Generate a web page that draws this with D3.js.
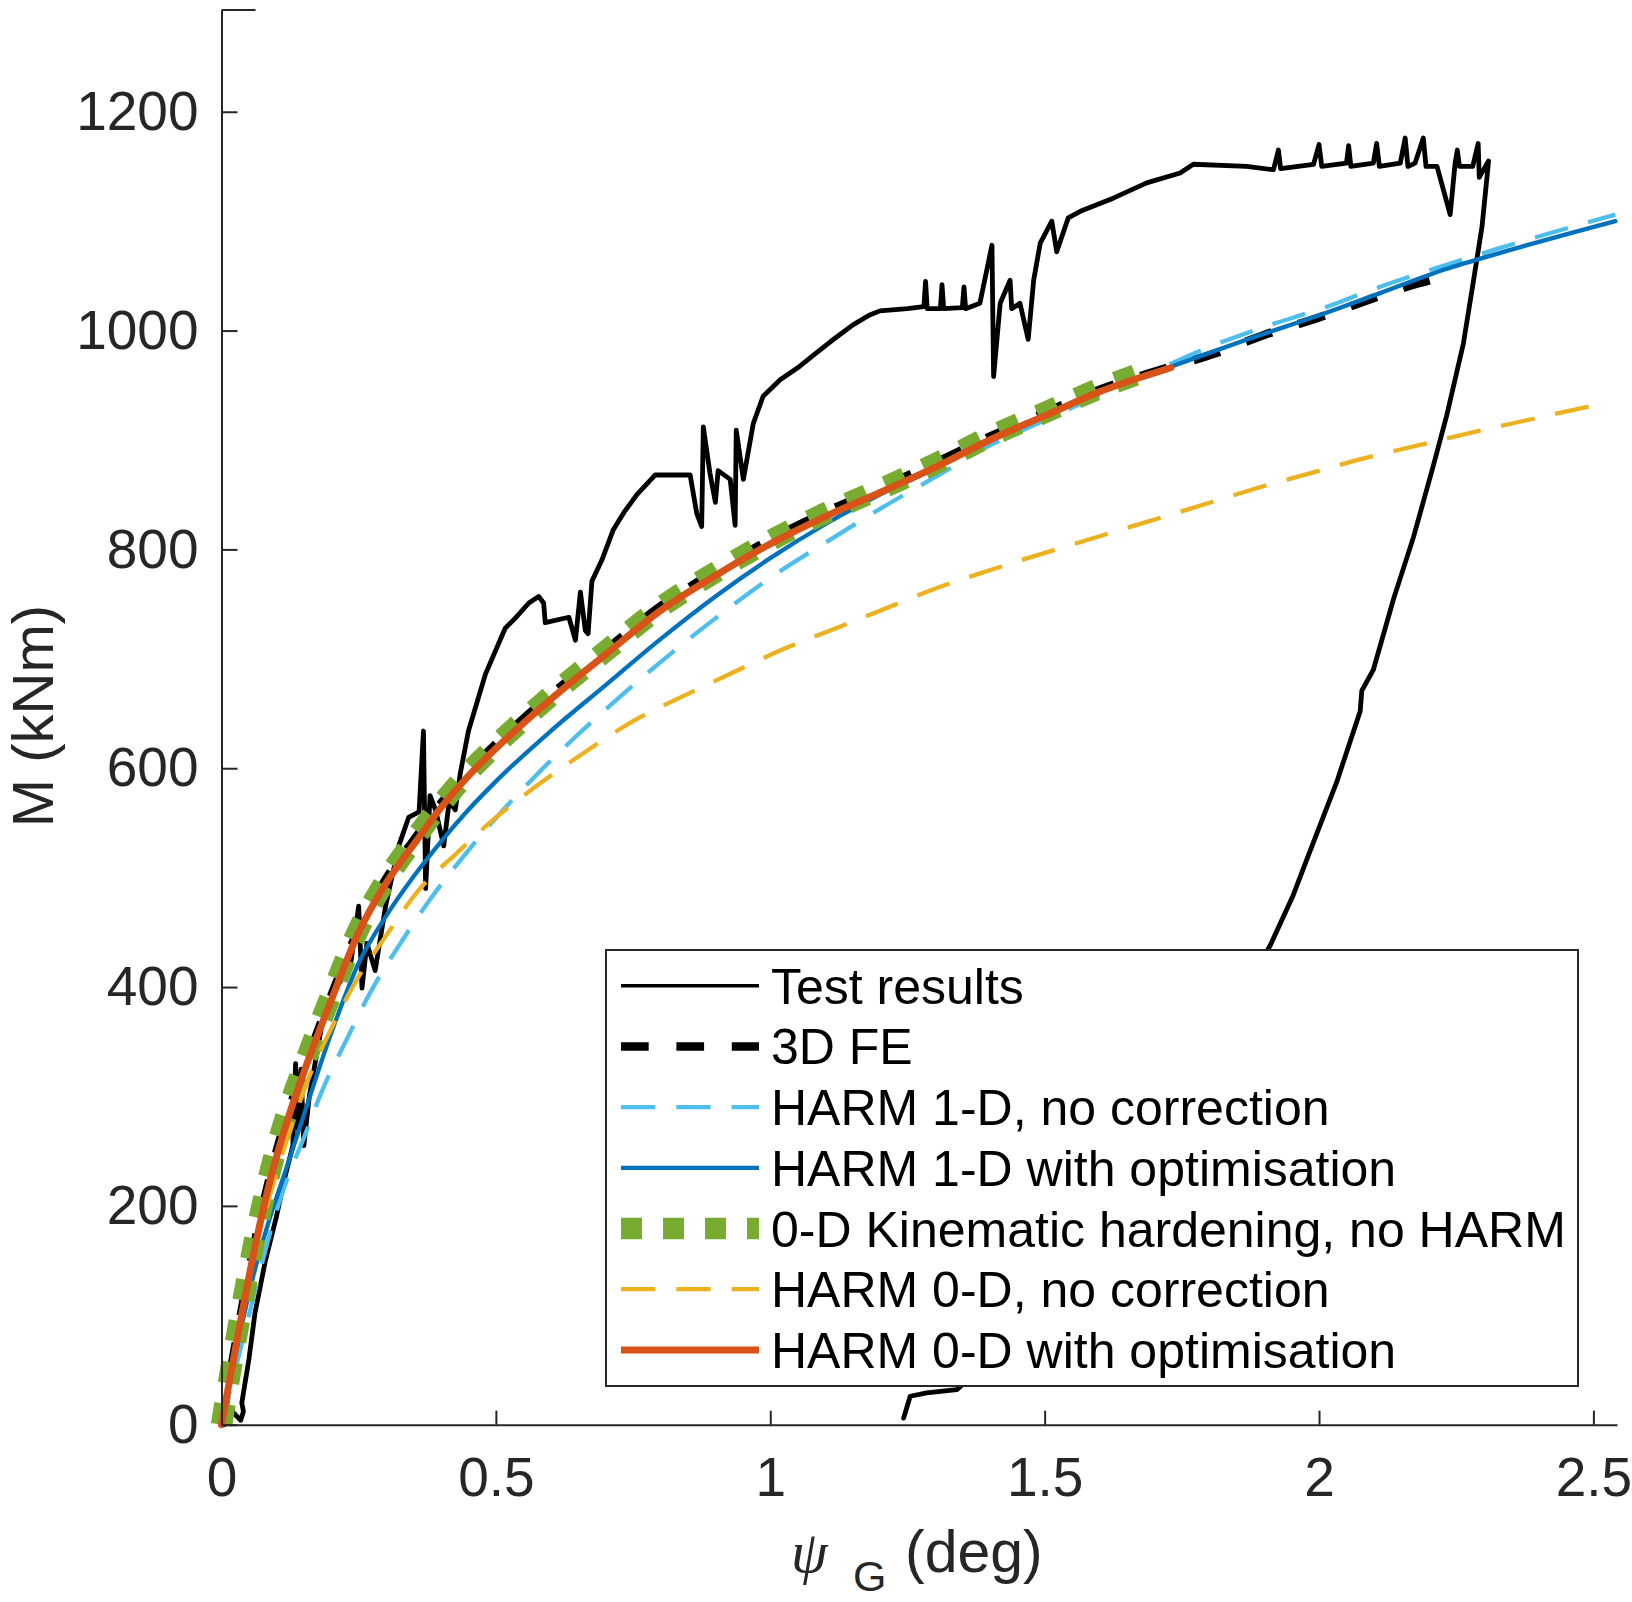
<!DOCTYPE html>
<html>
<head>
<meta charset="utf-8">
<script src="https://cdn.jsdelivr.net/npm/d3@7"></script>
<style>
  body { margin: 0; background: #fff; }
  svg { display: block; }
</style>
</head>
<body>
<div id="chart"></div>
<script>
// tick labels
const psiTicks = [0, 0.5, 1, 1.5, 2, 2.5];
const mTicks = [0, 200, 400, 600, 800, 1000, 1200];

// [psi (deg), M (kNm)]
const testResults = [
  [0.005,0],[0.02,12],[0.035,4],[0.04,12],[0.037,20],[0.05,60],[0.061,102],[0.08,150],[0.1,190],
  [0.115,225],[0.13,255],[0.135,330],[0.14,270],[0.145,325],[0.15,255],[0.16,300],[0.183,366],
  [0.21,400],[0.235,420],[0.25,474],[0.256,399],[0.265,440],[0.28,415],[0.299,474],[0.323,529],
  [0.341,555],[0.36,560],[0.368,634],[0.372,490],[0.38,575],[0.39,562],[0.405,529],[0.415,570],
  [0.426,562],[0.435,595],[0.45,634],[0.481,686],[0.517,728],[0.535,737],[0.56,751],[0.578,757],
  [0.587,751],[0.59,733],[0.633,738],[0.645,717],[0.654,761],[0.663,726],[0.668,723],[0.675,771],
  [0.693,790],[0.714,818],[0.735,835],[0.757,850],[0.79,868],[0.854,868],[0.866,833],[0.875,821],[0.878,912],
  [0.89,870],[0.9,843],[0.905,872],[0.927,864],[0.936,822],[0.938,909],[0.951,864],[0.969,915],
  [0.987,940],[1.018,955],[1.05,966],[1.08,978],[1.11,990],[1.15,1005],[1.18,1014],[1.2,1018],[1.25,1020],[1.28,1022],
  [1.283,1045],[1.286,1020],[1.31,1020],[1.313,1042],[1.316,1020],[1.35,1021],[1.353,1040],
  [1.356,1020],[1.382,1025],[1.404,1078],[1.407,958],[1.419,1025],[1.437,1046],[1.44,1020],
  [1.455,1025],[1.47,992],[1.48,1046],[1.492,1080],[1.513,1100],[1.522,1072],[1.543,1103],
  [1.565,1109],[1.625,1121],[1.686,1135],[1.747,1144],[1.771,1152],[1.868,1150],[1.917,1147],
  [1.926,1165],[1.93,1148],[1.99,1152],[2.0,1170],[2.005,1150],[2.05,1153],[2.054,1169],
  [2.058,1150],[2.099,1153],[2.105,1171],[2.11,1150],[2.148,1153],[2.157,1176],[2.162,1150],
  [2.175,1153],[2.19,1176],[2.195,1150],[2.215,1150],[2.239,1106],[2.248,1153],[2.252,1165],
  [2.256,1150],[2.28,1150],[2.29,1171],[2.292,1140],[2.309,1155],
  // unloading
  [2.297,1095],[2.281,1044],[2.263,988],[2.233,923],[2.208,876],[2.172,811],[2.136,755],
  [2.099,690],[2.078,671],[2.075,652],[2.032,587],[1.978,517],[1.953,484],[1.911,438],
  [1.8,340],[1.65,220],[1.5,120],[1.4,60],[1.34,32],[1.285,29],[1.255,26],[1.243,6]
];

const fe3d = [
  [0,0],[0.03,86],[0.06,165],[0.09,230],[0.12,283],[0.15,325],[0.2,392],[0.25,453],[0.3,499],
  [0.35,534],[0.4,568],[0.45,597],[0.5,622],[0.6,667],[0.7,708],[0.8,748],[0.9,780],[1.0,809],
  [1.1,834],[1.2,856],[1.3,879],[1.4,903],[1.5,925],[1.6,946],[1.71,964],[1.81,979],[1.9,996],
  [2.0,1012],[2.09,1028],[2.18,1043],[2.21,1047]
];

const harm1dNoCorr = [
  [0,0],[0.03,60],[0.06,120],[0.09,178],[0.12,225],[0.15,262],[0.184,306],[0.226,350],
  [0.27,394],[0.33,443],[0.38,480],[0.45,525],[0.51,560],[0.58,597],[0.65,631],[0.73,667],
  [0.8,697],[0.9,737],[1.0,774],[1.1,806],[1.2,837],[1.3,866],[1.4,895],[1.5,918],[1.6,941],
  [1.7,963],[1.8,985],[1.91,1005],[2.01,1021],[2.1,1038],[2.2,1055],[2.32,1074],[2.54,1106]
];

const harm1dOpt = [
  [0,0],[0.03,75],[0.06,140],[0.09,192],[0.12,237],[0.15,283],[0.2,358],[0.25,422],[0.3,465],
  [0.35,501],[0.4,533],[0.45,562],[0.5,588],[0.6,634],[0.7,676],[0.8,718],[0.9,757],[1.0,792],
  [1.1,823],[1.2,850],[1.3,874],[1.4,900],[1.5,922],[1.6,944],[1.73,967],[1.87,992],[2.0,1014],
  [2.11,1034],[2.23,1056],[2.33,1071],[2.54,1100]
];

const kinematic0d = [
  [0,0],[0.03,88],[0.06,168],[0.09,234],[0.12,286],[0.15,328],[0.2,393],[0.25,453],[0.3,498],
  [0.35,534],[0.4,567],[0.45,596],[0.5,621],[0.6,666],[0.7,707],[0.8,747],[0.9,779],[1.0,808],
  [1.1,833],[1.2,855],[1.3,878],[1.4,903],[1.5,925],[1.6,947],[1.68,962]
];

const harm0dNoCorr = [
  [0,0],[0.03,80],[0.06,155],[0.09,213],[0.12,262],[0.16,318],[0.2,362],[0.24,401],[0.3,447],
  [0.36,489],[0.43,523],[0.5,555],[0.58,586],[0.66,614],[0.75,643],[0.85,668],[0.93,687],
  [1.02,708],[1.12,728],[1.21,746],[1.3,764],[1.4,781],[1.6,812],[1.79,841],[1.88,855],
  [1.98,869],[2.08,883],[2.18,895],[2.28,907],[2.36,916],[2.505,932]
];

const harm0dOpt = [
  [0,0],[0.03,82],[0.06,160],[0.09,226],[0.12,278],[0.15,322],[0.2,388],[0.25,450],[0.3,495],
  [0.35,530],[0.4,564],[0.45,593],[0.5,618],[0.6,663],[0.7,704],[0.8,744],[0.9,776],[1.0,805],
  [1.1,830],[1.2,852],[1.3,875],[1.4,900],[1.5,922],[1.6,944],[1.73,966]
];

const seriesNames = [
  'Test results', '3D FE', 'HARM 1-D, no correction', 'HARM 1-D with optimisation',
  '0-D Kinematic hardening, no HARM', 'HARM 0-D, no correction', 'HARM 0-D with optimisation'
];

const W = 1632, H = 1602;
const x = d3.scaleLinear().domain([0, 2.543]).range([221.5, 1617]);
const y = d3.scaleLinear().domain([0, 1293]).range([1424.7, 10]);
const axisColor = '#262626';
const font = '"Liberation Sans", Arial, Helvetica, sans-serif';

const series = [
  { data: testResults, color: '#000000', width: 4.8, legendWidth: 3.5, dash: null, smooth: false },
  { data: fe3d, color: '#000000', width: 8.5, dash: '27.7,27.7', smooth: true },
  { data: harm1dNoCorr, color: '#4DBEEE', width: 4.3, dash: '34.3,21', smooth: true },
  { data: harm1dOpt, color: '#0072BD', width: 4.3, dash: null, smooth: true },
  { data: kinematic0d, color: '#77AC30', width: 21.5, dash: '21,21', smooth: true },
  { data: harm0dNoCorr, color: '#EDB120', width: 4.3, dash: '34.3,21', smooth: true },
  { data: harm0dOpt, color: '#D95319', width: 7, dash: null, smooth: true }
];

const svg = d3.select('#chart').append('svg')
  .attr('width', W).attr('height', H)
  .attr('viewBox', `0 0 ${W} ${H}`);

const plot = svg.append('g');
series.forEach(s => {
  const line = d3.line()
    .x(d => x(d[0]))
    .y(d => y(d[1]))
    .curve(s.smooth ? d3.curveMonotoneX : d3.curveLinear);
  plot.append('path')
    .datum(s.data)
    .attr('fill', 'none')
    .attr('stroke', s.color)
    .attr('stroke-width', s.width)
    .attr('stroke-linejoin', 'round')
    .attr('stroke-linecap', s.dash ? 'butt' : 'round')
    .attr('stroke-dasharray', s.dash)
    .attr('d', line);
});

// axes, ticks pointing inward like matlab
const yAxis = svg.append('g')
  .attr('transform', `translate(${x(0)},0)`)
  .call(d3.axisLeft(y).tickValues(mTicks).tickFormat(d3.format('d'))
    .tickSizeInner(-16).tickSizeOuter(0).tickPadding(23));
const xAxis = svg.append('g')
  .attr('transform', `translate(0,${y(0)})`)
  .call(d3.axisBottom(x).tickValues(psiTicks).tickFormat(d => String(d))
    .tickSizeInner(-14).tickSizeOuter(0).tickPadding(32));

[yAxis, xAxis].forEach(g => {
  g.select('.domain').attr('stroke', axisColor).attr('stroke-width', 2);
  g.selectAll('.tick line').attr('stroke', axisColor).attr('stroke-width', 2);
  g.selectAll('.tick text')
    .attr('fill', axisColor)
    .style('font-family', font)
    .style('font-size', '55px');
});

// short stub at the top of the y axis
svg.append('line')
  .attr('x1', x(0)).attr('x2', x(0) + 34)
  .attr('y1', y.range()[1]).attr('y2', y.range()[1])
  .attr('stroke', axisColor).attr('stroke-width', 2);

// axis labels
svg.append('text')
  .attr('transform', 'translate(53,716) rotate(-90)')
  .attr('text-anchor', 'middle')
  .attr('fill', axisColor)
  .style('font-family', font)
  .style('font-size', '58px')
  .text('M (kNm)');

svg.append('text')
  .attr('x', 791).attr('y', 1572)
  .attr('fill', axisColor)
  .style('font-family', '"Liberation Serif", "DejaVu Serif", serif')
  .style('font-style', 'italic')
  .style('font-size', '59px')
  .text('ψ');
svg.append('text')
  .attr('x', 853).attr('y', 1591)
  .attr('fill', axisColor)
  .style('font-family', font)
  .style('font-size', '43px')
  .text('G');
svg.append('text')
  .attr('x', 905).attr('y', 1572)
  .attr('fill', axisColor)
  .style('font-family', font)
  .style('font-size', '59px')
  .text('(deg)');

// legend
const lg = svg.append('g');
lg.append('rect')
  .attr('x', 606).attr('y', 950)
  .attr('width', 972).attr('height', 436)
  .attr('fill', '#fff')
  .attr('stroke', axisColor).attr('stroke-width', 2);

const rowY0 = 985.7, rowStep = 60.7;
seriesNames.forEach((name, i) => {
  const s = series[i];
  const ry = rowY0 + i * rowStep;
  lg.append('line')
    .attr('x1', 621).attr('x2', 759)
    .attr('y1', ry).attr('y2', ry)
    .attr('stroke', s.color)
    .attr('stroke-width', s.legendWidth || s.width)
    .attr('stroke-dasharray', s.dash);
  lg.append('text')
    .attr('x', 771).attr('y', ry + 18)
    .attr('fill', '#000')
    .style('font-family', font)
    .style('font-size', '50px')
    .text(name);
});
</script>
</body>
</html>
